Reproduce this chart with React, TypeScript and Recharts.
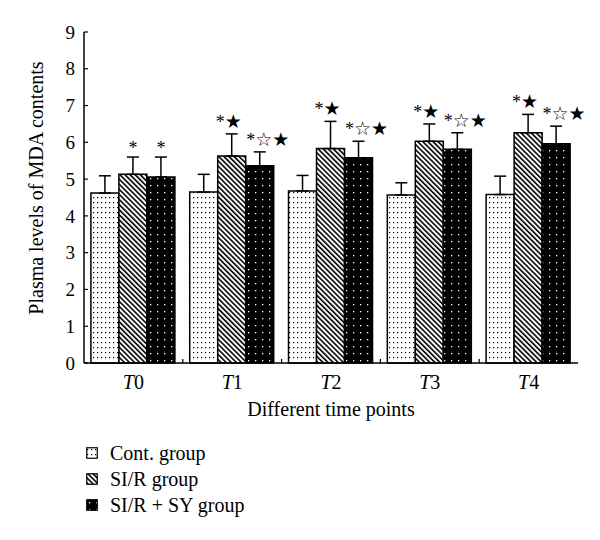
import { BarChart, Bar, XAxis, YAxis, ErrorBar, LabelList } from "recharts";

const timePoints = ["0", "1", "2", "3", "4"];
const contValues = [4.62, 4.65, 4.68, 4.57, 4.58];
const contErrors = [0.47, 0.48, 0.42, 0.33, 0.5];
const sirValues = [5.13, 5.63, 5.83, 6.03, 6.26];
const sirErrors = [0.47, 0.6, 0.74, 0.47, 0.5];
const sySValues = [5.06, 5.36, 5.58, 5.81, 5.96];
const syErrors = [0.54, 0.38, 0.45, 0.45, 0.48];
const sirMarks = ["*", "*★", "*★", "*★", "*★"];
const syMarks = ["*", "*☆★", "*☆★", "*☆★", "*☆★"];
const yTicks = [0, 1, 2, 3, 4, 5, 6, 7, 8, 9];

const data = timePoints.map((t, i) => ({
  name: t,
  cont: contValues[i],
  contErr: [0, contErrors[i]],
  sir: sirValues[i],
  sirErr: [0, sirErrors[i]],
  sirErrVal: sirErrors[i],
  sirMark: sirMarks[i],
  sy: sySValues[i],
  syErr: [0, syErrors[i]],
  syErrVal: syErrors[i],
  syMark: syMarks[i],
}));

const SERIF = "'Liberation Serif', 'DejaVu Serif', serif";
const CHART_W = 600;
const CHART_H = 540;
const PLOT_LEFT = 84;
const PLOT_RIGHT = 578;
const BAND = (PLOT_RIGHT - PLOT_LEFT) / timePoints.length;

function YTick(props: any) {
  const { x, y, payload } = props;
  return (
    <g>
      <line x1={x + 9} x2={x + 13} y1={y} y2={y} stroke="#000" strokeWidth={1.2} />
      <text x={x} y={y} dy="0.35em" textAnchor="end" fontFamily={SERIF} fontSize={19} fill="#000">
        {payload.value}
      </text>
    </g>
  );
}

function XTick(props: any) {
  const { x, y, payload, index } = props;
  return (
    <g>
      {index < timePoints.length - 1 && (
        <line x1={x + BAND / 2} x2={x + BAND / 2} y1={y} y2={y - 4} stroke="#000" strokeWidth={1.2} />
      )}
      <text x={x} y={y + 26} textAnchor="middle" fontFamily={SERIF} fontSize={20} fill="#000">
        <tspan fontStyle="italic">T</tspan>
        <tspan>{payload.value}</tspan>
      </text>
    </g>
  );
}

function makeMarkLabel(series: "sir" | "sy", shift: number) {
  return (props: any) => {
    const { x, y, width, height, value, index } = props;
    if (!value) return null;
    const v = data[index][series];
    const err = data[index][series === "sir" ? "sirErrVal" : "syErrVal"];
    const perUnit = height / v;
    const errTop = y - err * perUnit;
    const single = value.length === 1;
    const cx = x + width / 2 + (single ? 0 : shift);
    return (
      <text x={cx} y={errTop - (single ? 3 : 6)} textAnchor="middle" fill="#000">
        {value.split("").map((ch: string, i: number) =>
          ch === "*" ? (
            <tspan key={i} fontFamily={SERIF} fontSize={18} fill="#000">
              {ch}
            </tspan>
          ) : (
            <tspan key={i} fontFamily="'DejaVu Sans', sans-serif" fontSize={19} fill="#000">
              {ch}
            </tspan>
          )
        )}
      </text>
    );
  };
}

const legendItems = [
  { label: "Cont. group", fill: "url(#dotsLight)" },
  { label: "SI/R group", fill: "url(#diagLines)" },
  { label: "SI/R + SY group", fill: "url(#dotsDark)" },
];

function LegendBox() {
  return (
    <div style={{ position: "absolute", left: 86, top: 440, fontFamily: SERIF, fontSize: 20, color: "#000" }}>
      {legendItems.map((it) => (
        <div key={it.label} style={{ display: "flex", alignItems: "center", height: 26 }}>
          <svg width={12} height={12} style={{ marginRight: 12 }}>
            <rect x={0.75} y={0.75} width={10.5} height={10.5} fill={it.fill} stroke="#000" strokeWidth={1.2} />
          </svg>
          <span>{it.label}</span>
        </div>
      ))}
    </div>
  );
}

export default function App() {
  return (
    <div style={{ position: "absolute", left: 0, top: 0, width: CHART_W, height: CHART_H, background: "#fff" }}>
      <BarChart
        width={CHART_W}
        height={CHART_H}
        data={data}
        margin={{ top: 32, right: CHART_W - PLOT_RIGHT, bottom: 117, left: PLOT_LEFT - 40 }}
        barCategoryGap="7%"
        barGap={0}
      >
        <defs>
          <pattern id="dotsLight" patternUnits="userSpaceOnUse" width={4} height={5}>
            <rect width={4} height={5} fill="#fff" />
            <rect x={1} y={2} width={1.2} height={1.2} fill="#000" />
          </pattern>
          <pattern id="diagLines" patternUnits="userSpaceOnUse" width={3.6} height={10} patternTransform="rotate(-45)">
            <rect width={3.6} height={10} fill="#fff" />
            <rect x={0} width={1.6} height={10} fill="#000" />
          </pattern>
          <pattern id="dotsDark" patternUnits="userSpaceOnUse" width={7} height={7}>
            <rect width={7} height={7} fill="#000" />
            <rect x={3} y={3} width={1.3} height={1.3} fill="#fff" />
          </pattern>
        </defs>
        <XAxis
          dataKey="name"
          axisLine={{ stroke: "#000", strokeWidth: 1.5 }}
          tickLine={false}
          tickSize={0}
          tickMargin={0}
          height={60}
          tick={<XTick />}
          interval={0}
          label={{
            value: "Different time points",
            position: "insideBottom",
            offset: 7,
            fontFamily: SERIF,
            fontSize: 20,
            fill: "#000",
          }}
        />
        <XAxis
          xAxisId="top"
          dataKey="name"
          orientation="top"
          height={0}
          tick={false}
          tickLine={false}
          axisLine={{ stroke: "#000", strokeWidth: 1.5 }}
        />
        <YAxis
          domain={[0, 9]}
          ticks={yTicks}
          interval={0}
          width={40}
          tickSize={0}
          tickMargin={9}
          tickLine={false}
          axisLine={{ stroke: "#000", strokeWidth: 1.5 }}
          tick={<YTick />}
          label={{
            content: () => (
              <text
                x={36}
                y={188}
                transform="rotate(-90 36 188)"
                textAnchor="middle"
                dominantBaseline="central"
                fontFamily={SERIF}
                fontSize={20}
                fill="#000"
              >
                Plasma levels of MDA contents
              </text>
            ),
          }}
        />
        <YAxis
          yAxisId="right"
          orientation="right"
          domain={[0, 9]}
          width={0}
          tick={false}
          tickLine={false}
          axisLine={{ stroke: "#000", strokeWidth: 1.5 }}
        />
        <Bar dataKey="cont" fill="url(#dotsLight)" stroke="#000" strokeWidth={1.5} isAnimationActive={false}>
          <ErrorBar dataKey="contErr" width={6} stroke="#000" strokeWidth={1.5} direction="y" />
        </Bar>
        <Bar dataKey="sir" fill="url(#diagLines)" stroke="#000" strokeWidth={1.5} isAnimationActive={false}>
          <ErrorBar dataKey="sirErr" width={6} stroke="#000" strokeWidth={1.5} direction="y" />
          <LabelList dataKey="sirMark" content={makeMarkLabel("sir", -3)} />
        </Bar>
        <Bar dataKey="sy" fill="url(#dotsDark)" stroke="#000" strokeWidth={1.5} isAnimationActive={false}>
          <ErrorBar dataKey="syErr" width={6} stroke="#000" strokeWidth={1.5} direction="y" />
          <LabelList dataKey="syMark" content={makeMarkLabel("sy", 8)} />
        </Bar>
      </BarChart>
      <LegendBox />
    </div>
  );
}
